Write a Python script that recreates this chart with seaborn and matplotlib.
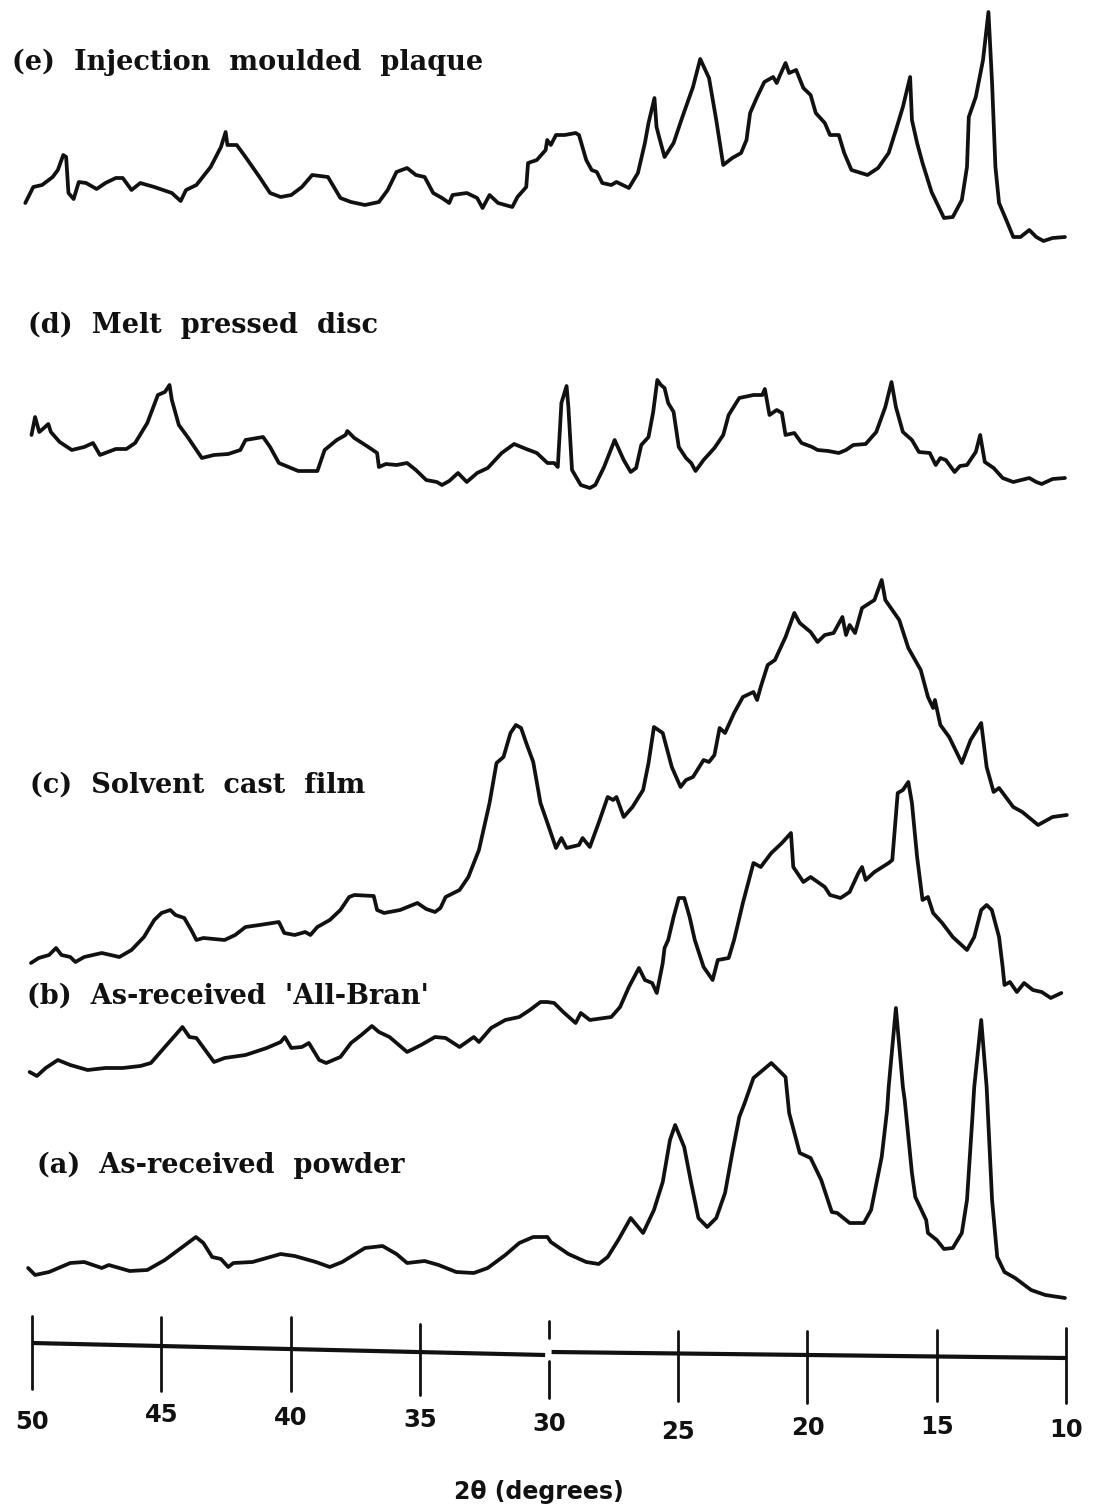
import numpy as np
import pandas as pd
import matplotlib
matplotlib.use("Agg")
import matplotlib.pyplot as plt
import seaborn as sns

# ---------------- data (2-theta in degrees, intensity in arbitrary units) ----------------
tt_e = [50.26, 49.95, 49.61, 49.20, 49.00, 48.79, 48.68, 48.59, 48.39, 48.19, 47.91, 47.50, 47.16, 46.76,
        46.49, 46.15, 45.81, 45.27, 44.59, 44.25, 44.04, 43.64, 43.09, 42.69, 42.51, 42.44, 42.08, 41.74,
        41.20, 40.79, 40.38, 39.97, 39.56, 39.16, 38.55, 38.07, 37.66, 37.12, 36.58, 36.24, 35.90, 35.49,
        35.15, 34.81, 34.48, 34.14, 33.86, 33.73, 33.18, 32.78, 32.57, 32.30, 31.97, 31.42, 31.22, 30.88,
        30.81, 30.47, 30.13, 30.07, 29.93, 29.73, 29.39, 28.97, 28.84, 28.56, 28.35, 28.15, 27.94, 27.59,
        27.39, 26.91, 26.56, 26.29, 26.15, 25.92, 25.84, 25.74, 25.53, 25.18, 24.84, 24.43, 24.15, 23.81,
        23.53, 23.26, 22.91, 22.57, 22.36, 22.22, 21.95, 21.67, 21.33, 21.19, 21.06, 20.85, 20.71, 20.44,
        20.16, 19.88, 19.68, 19.33, 19.13, 18.79, 18.58, 18.30, 17.68, 17.27, 16.86, 16.58, 16.31, 16.03,
        15.96, 15.76, 15.55, 15.20, 14.72, 14.38, 14.03, 13.83, 13.76, 13.49, 13.21, 13.00, 12.86, 12.73,
        12.59, 12.31, 12.04, 11.76, 11.42, 11.15, 10.87, 10.52, 10.04]
int_e = [38, 54, 56, 64, 71, 86, 84, 48, 42, 59, 58, 52, 58, 63,
         63, 51, 58, 54, 48, 40, 51, 56, 74, 94, 109, 96, 96, 84,
         64, 48, 44, 46, 54, 66, 64, 43, 39, 36, 39, 51, 69, 73,
         66, 64, 48, 43, 38, 46, 48, 43, 33, 46, 38, 34, 44, 54,
         78, 81, 91, 101, 96, 106, 106, 108, 106, 81, 71, 69, 58, 56,
         59, 53, 68, 98, 118, 143, 114, 104, 84, 98, 124, 154, 182, 163,
         121, 76, 83, 88, 101, 128, 144, 159, 164, 158, 166, 178, 168, 171,
         153, 146, 128, 118, 106, 106, 88, 71, 66, 73, 88, 111, 134, 164,
         121, 98, 78, 49, 23, 24, 41, 74, 124, 144, 181, 229, 158, 74,
         38, 21, 4, 4, 11, 4, 0, 3, 4]

tt_d = [50.02, 49.88, 49.72, 49.54, 49.37, 49.27, 48.93, 48.46, 47.98, 47.64, 47.37, 46.76, 46.35, 46.01,
        45.54, 45.13, 44.86, 44.68, 44.59, 44.32, 43.98, 43.43, 42.96, 42.41, 41.94, 41.74, 41.06, 40.79,
        40.45, 39.70, 38.96, 38.68, 38.21, 37.87, 37.80, 37.53, 36.99, 36.65, 36.58, 36.31, 35.90, 35.49,
        35.15, 34.75, 34.34, 34.14, 33.86, 33.52, 33.18, 32.78, 32.37, 31.83, 31.35, 30.88, 30.47, 30.06,
        29.80, 29.66, 29.52, 29.32, 29.25, 29.11, 28.77, 28.42, 28.21, 27.87, 27.46, 27.11, 26.84, 26.63,
        26.43, 26.15, 25.97, 25.81, 25.67, 25.53, 25.39, 25.18, 24.98, 24.70, 24.50, 24.33, 24.02, 23.60,
        23.26, 23.05, 22.64, 22.09, 21.75, 21.65, 21.47, 21.19, 20.99, 20.85, 20.51, 20.23, 19.82, 19.61,
        19.20, 18.79, 18.51, 18.23, 17.75, 17.34, 16.99, 16.75, 16.58, 16.31, 15.96, 15.69, 15.27, 15.04,
        14.86, 14.65, 14.31, 14.10, 13.83, 13.49, 13.32, 13.14, 12.80, 12.45, 12.04, 11.42, 11.15, 10.94,
        10.52, 10.04]
int_d = [54, 72, 57, 61, 65, 57, 47, 39, 42, 46, 34, 40, 40, 46,
         66, 94, 97, 104, 89, 64, 52, 31, 34, 35, 39, 49, 52, 42,
         26, 18, 18, 39, 49, 54, 58, 51, 42, 36, 22, 25, 24, 26,
         19, 9, 7, 4, 8, 16, 7, 16, 21, 36, 45, 40, 36, 26,
         26, 22, 86, 103, 82, 19, 4, 1, 4, 22, 49, 29, 17, 21,
         44, 52, 77, 109, 104, 101, 86, 77, 42, 31, 26, 18, 29, 41,
         54, 74, 91, 94, 94, 100, 74, 79, 76, 54, 56, 46, 42, 39,
         38, 36, 39, 44, 45, 57, 82, 107, 82, 57, 49, 37, 36, 24,
         31, 29, 17, 23, 24, 37, 54, 27, 21, 11, 7, 11, 7, 5,
         10, 11]

tt_c = [50.04, 49.74, 49.34, 49.07, 48.86, 48.52, 48.32, 47.98, 47.30, 46.62, 46.15, 45.67, 45.27, 44.99,
        44.65, 44.45, 44.11, 43.84, 43.64, 43.37, 42.55, 42.14, 41.74, 41.20, 40.45, 40.24, 39.84, 39.43,
        39.23, 38.96, 38.48, 38.07, 37.73, 37.53, 36.78, 36.65, 36.38, 35.76, 35.09, 34.75, 34.41, 34.20,
        34.00, 33.46, 33.12, 32.71, 32.30, 32.03, 31.76, 31.49, 31.28, 31.08, 30.88, 30.61, 30.33, 30.06,
        29.73, 29.52, 29.32, 28.84, 28.70, 28.42, 28.08, 27.73, 27.52, 27.39, 27.11, 26.77, 26.36, 26.15,
        25.94, 25.60, 25.25, 24.91, 24.70, 24.43, 24.02, 23.81, 23.60, 23.40, 23.19, 22.84, 22.50, 22.09,
        21.95, 21.81, 21.54, 21.26, 20.85, 20.51, 20.30, 19.88, 19.61, 19.33, 18.99, 18.65, 18.51, 18.37,
        18.16, 17.89, 17.41, 17.13, 16.99, 16.45, 16.10, 15.62, 15.34, 15.14, 15.07, 14.86, 14.52, 14.03,
        13.69, 13.28, 13.07, 12.80, 12.59, 12.04, 11.69, 11.08, 10.52, 9.97]
int_c = [0, 5, 8, 15, 8, 6, 1, 6, 10, 6, 13, 26, 43, 50,
         53, 48, 45, 33, 23, 25, 23, 28, 36, 38, 41, 30, 28, 31,
         28, 36, 43, 53, 66, 68, 67, 53, 50, 53, 60, 54, 51, 55,
         66, 73, 86, 113, 160, 200, 206, 230, 238, 235, 220, 201, 160, 140,
         115, 125, 115, 118, 125, 116, 140, 166, 163, 166, 146, 156, 173, 200,
         236, 230, 196, 176, 183, 186, 203, 201, 208, 235, 230, 250, 266, 271,
         263, 276, 298, 303, 326, 350, 340, 331, 321, 328, 330, 346, 328, 338,
         330, 355, 363, 383, 363, 343, 315, 293, 266, 255, 263, 238, 226, 200,
         223, 240, 196, 171, 175, 156, 151, 138, 146, 148]

tt_b = [50.09, 49.81, 49.47, 49.00, 48.52, 47.85, 47.16, 46.49, 45.81, 45.40, 44.86, 44.45, 44.18, 43.91,
        43.64, 42.96, 42.55, 41.74, 40.92, 40.38, 40.22, 39.97, 39.56, 39.29, 38.89, 38.62, 38.07, 37.66,
        37.26, 36.85, 36.58, 36.17, 35.49, 34.95, 34.41, 34.00, 33.46, 32.91, 32.71, 32.24, 31.69, 31.15,
        30.74, 30.33, 30.07, 29.80, 29.45, 28.97, 28.77, 28.42, 27.59, 27.25, 26.91, 26.52, 26.29, 26.01,
        25.83, 25.60, 25.53, 25.39, 25.18, 24.98, 24.77, 24.56, 24.36, 24.02, 23.67, 23.47, 23.05, 22.84,
        22.50, 22.09, 21.81, 21.40, 20.99, 20.64, 20.55, 20.16, 19.88, 19.33, 19.13, 18.72, 18.37, 18.03,
        17.89, 17.75, 17.41, 16.86, 16.72, 16.51, 16.31, 16.10, 15.96, 15.76, 15.55, 15.34, 15.14, 14.79,
        14.38, 13.83, 13.55, 13.28, 13.07, 12.87, 12.59, 12.45, 12.38, 12.17, 11.90, 11.62, 11.28, 10.94,
        10.59, 10.18]
int_b = [4, 0, 8, 16, 11, 6, 8, 8, 10, 13, 29, 41, 49, 39,
         38, 14, 18, 21, 28, 34, 39, 28, 29, 33, 16, 13, 19, 33,
         41, 50, 44, 39, 24, 31, 39, 38, 29, 39, 34, 48, 56, 59,
         66, 74, 74, 73, 64, 53, 63, 56, 59, 69, 89, 108, 96, 93,
         83, 113, 128, 136, 159, 178, 178, 159, 136, 109, 96, 116, 118, 136,
         173, 213, 209, 223, 233, 243, 209, 194, 199, 189, 181, 178, 184, 203,
         209, 196, 204, 213, 216, 283, 286, 294, 273, 219, 176, 179, 163, 153,
         139, 126, 139, 166, 171, 166, 139, 109, 91, 94, 84, 93, 86, 84,
         78, 83]

tt_a = [50.15, 49.88, 49.34, 48.52, 47.98, 47.30, 47.03, 46.22, 45.54, 44.86, 44.18, 43.66, 43.37, 43.03,
        42.69, 42.41, 42.21, 41.47, 40.38, 39.84, 39.02, 38.48, 38.00, 37.12, 36.44, 35.90, 35.49, 34.81,
        34.27, 33.59, 32.91, 32.37, 31.69, 31.15, 30.61, 30.06, 29.93, 29.25, 28.56, 28.08, 27.73, 27.32,
        26.84, 26.36, 25.94, 25.60, 25.32, 25.12, 24.77, 24.50, 24.22, 23.88, 23.53, 23.19, 22.91, 22.64,
        22.43, 22.09, 21.40, 20.85, 20.71, 20.30, 19.88, 19.47, 19.06, 18.85, 18.37, 17.82, 17.54, 17.13,
        16.92, 16.86, 16.58, 16.31, 16.24, 15.96, 15.83, 15.41, 15.34, 15.00, 14.72, 14.38, 14.03, 13.83,
        13.62, 13.55, 13.28, 13.07, 12.86, 12.66, 12.38, 11.97, 11.35, 10.80, 10.04]
int_a = [30, 23, 26, 35, 36, 30, 33, 27, 28, 38, 51, 61, 55, 41,
         39, 31, 35, 36, 44, 42, 36, 31, 36, 50, 52, 44, 35, 37,
         33, 26, 25, 30, 43, 55, 61, 61, 56, 44, 36, 34, 41, 58,
         80, 65, 88, 116, 158, 173, 151, 115, 80, 71, 80, 105, 145, 181,
         195, 220, 235, 221, 185, 145, 140, 118, 86, 85, 75, 75, 88, 141,
         188, 211, 290, 211, 198, 125, 101, 78, 65, 58, 49, 50, 65, 98,
         181, 211, 278, 211, 98, 41, 26, 20, 8, 3, 0]

trace_keys = ["a", "b", "c", "d", "e"]
trace_labels = ["(a)  As-received  powder", "(b)  As-received  'All-Bran'", "(c)  Solvent  cast  film",
                "(d)  Melt  pressed  disc", "(e)  Injection  moulded  plaque"]
trace_offsets = [211, 433, 546, 1020, 1268]
tick_values = [50, 45, 40, 35, 30, 25, 20, 15, 10]
x_label = "2θ (degrees)"

# ---------------- figure ----------------
sns.set_theme(style="white")
plt.rcParams["font.family"] = ["DejaVu Sans"]

W, H = 1098, 1509
fig = plt.figure(figsize=(W / 100, H / 100), dpi=100)
fig.patch.set_facecolor("white")
ax = fig.add_axes([0, 0, 1, 1])
ax.set_facecolor("white")

series = {"a": (tt_a, int_a), "b": (tt_b, int_b), "c": (tt_c, int_c), "d": (tt_d, int_d), "e": (tt_e, int_e)}
frames = []
for key, off in zip(trace_keys, trace_offsets):
    tt, ii = series[key]
    frames.append(pd.DataFrame({"two_theta": tt, "signal": np.array(ii, float) + off, "sample": key}))
df = pd.concat(frames, ignore_index=True)
sns.lineplot(data=df, x="two_theta", y="signal", units="sample", estimator=None, sort=False,
             color="#111111", linewidth=2.7, ax=ax, legend=False)

ax.set_xlim(51.238, 8.762)
ax.set_ylim(0, H)
ax.axis("off")

# hand-drawn looking axis: two slightly sloping segments broken at 30
axis_kw = dict(color="#111111", lw=3.0, solid_capstyle="butt")
ax.plot([50, 30.15], [166, 154], **axis_kw)
ax.plot([29.9, 10], [157, 151], **axis_kw)
tick_spans = {50: [(120, 193)], 45: [(118, 192)], 40: [(118, 192)], 35: [(114, 185)],
              30: [(171, 188), (111, 148)], 25: [(108, 178)], 20: [(106, 178)], 15: [(108, 179)],
              10: [(106, 181)]}
for t in tick_values:
    for lo, hi in tick_spans[t]:
        ax.plot([t, t], [lo, hi], color="#111111", lw=2.0)

label_rows = [1422, 1415, 1418, 1420, 1424, 1432, 1428, 1427, 1430]
for t, row in zip(tick_values, label_rows):
    ax.text(t, H - row, str(t), ha="center", va="center", fontsize=17.5, fontweight="bold",
            color="#111111", family=["DejaVu Sans"])

ax.text(30.4, H - 1492, x_label, ha="center", va="center", fontsize=17, fontweight="bold",
        color="#111111", family=["DejaVu Sans"])

# sample labels
label_pos = {"e": (12, 62), "d": (28, 325), "c": (30, 785), "b": (27, 996), "a": (37, 1165)}
for key, lab in zip(trace_keys, trace_labels):
    px, py = label_pos[key]
    fig.text(px / W, 1 - py / H, lab, ha="left", va="center", fontsize=19.5, fontweight="bold",
             color="#111111", family=["DejaVu Serif"])

fig.savefig("out.png", dpi=100, facecolor="white")
